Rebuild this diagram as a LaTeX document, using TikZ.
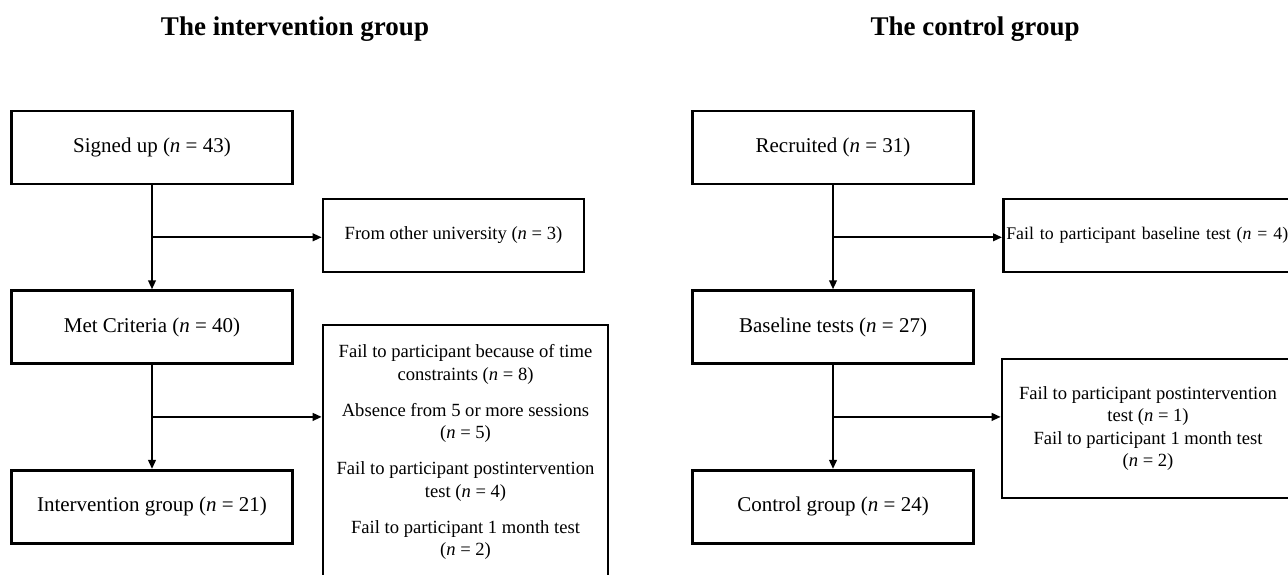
\documentclass[tikz,border=0pt]{standalone}
\usepackage{fontspec}
\setmainfont{Liberation Serif}
\usetikzlibrary{arrows.meta,positioning,calc}
\newcommand{\ncount}[1]{(\textit{n} = #1)}

\begin{document}
\begin{tikzpicture}[
            x=0.5pt, y=0.5pt,
            node distance=52pt,
            stage/.style={
                    rectangle,
                    draw=black,
                    line width=1.3pt,
                    minimum width=140.5pt,
                    minimum height=36.5pt,
                    inner sep=0pt,
                    align=center,
                    font=\fontsize{10.5}{13}\selectfont
                },
            excl/.style={
                    rectangle,
                    draw=black,
                    line width=1.3pt,
                    inner sep=3pt,
                    align=center,
                    font=\fontsize{9.3}{11.25}\selectfont
                },
            heading/.style={font=\fontsize{13.5}{16}\selectfont\bfseries},
            arrow/.style={-{Triangle[length=4.5pt,width=3.8pt]}, line width=1pt}
        ]
        \useasboundingbox[fill=white] (0,0) rectangle (1288,-574);

        \node[heading] (titleA) at (295,-29) {The intervention group};
        \node[heading] (titleB) at (975,-29) {The control group};

        % intervention group
        \node[stage] (signed) at (152,-147.5) {Signed up \ncount{43}};
        \node[stage, below=of signed] (met) {Met Criteria \ncount{40}};
        \node[stage, below=of met] (igroup) {Intervention group \ncount{21}};
        \node[excl, minimum width=130.5pt, minimum height=36.5pt] (other) at (453.5,-235.5) {From other university \ncount{3}};
        \node[excl, minimum width=142.5pt, minimum height=127pt] (drops) at (465.5,-452) {Fail to participant because of time\\ constraints \ncount{8}\\[6.75pt] Absence from 5 or more sessions\\ \ncount{5}\\[6.75pt] Fail to participant postintervention\\ test \ncount{4}\\[6.75pt] Fail to participant 1 month test\\ \ncount{2}};

        % control group
        \node[stage] (recruit) at (833,-147.5) {Recruited \ncount{31}};
        \node[stage, below=of recruit] (baseline) {Baseline tests \ncount{27}};
        \node[stage, below=of baseline] (cgroup) {Control group \ncount{24}};
        \node[excl, anchor=west, inner xsep=1.5pt, minimum width=159pt, minimum height=36.5pt, text width=156pt, align=left, font=\fontsize{8.9}{11.25}\selectfont] (nobase) at (1002,-235.5) {Fail to participant baseline test \ncount{4}};
        \node[excl, minimum width=146pt, minimum height=69.5pt] (nofollow) at (1148,-428.5) {Fail to participant postintervention\\ test \ncount{1}\\ Fail to participant 1 month test\\ \ncount{2}};

        \coordinate (splitA) at ($(signed.south)!0.5!(met.north)$);
        \coordinate (splitB) at ($(met.south)!0.5!(igroup.north)$);
        \coordinate (splitC) at ($(recruit.south)!0.5!(baseline.north)$);
        \coordinate (splitD) at ($(baseline.south)!0.5!(cgroup.north)$);

        \draw[arrow] (signed) -- (met);
        \draw[arrow] (met) -- (igroup);
        \draw[arrow] (splitA) -- (splitA -| other.west);
        \draw[arrow] (splitB) -- (splitB -| drops.west);
        \draw[arrow] (recruit) -- (baseline);
        \draw[arrow] (baseline) -- (cgroup);
        \draw[arrow] (splitC) -- (splitC -| nobase.west);
        \draw[arrow] (splitD) -- (splitD -| nofollow.west);
    \end{tikzpicture}
\end{document}
